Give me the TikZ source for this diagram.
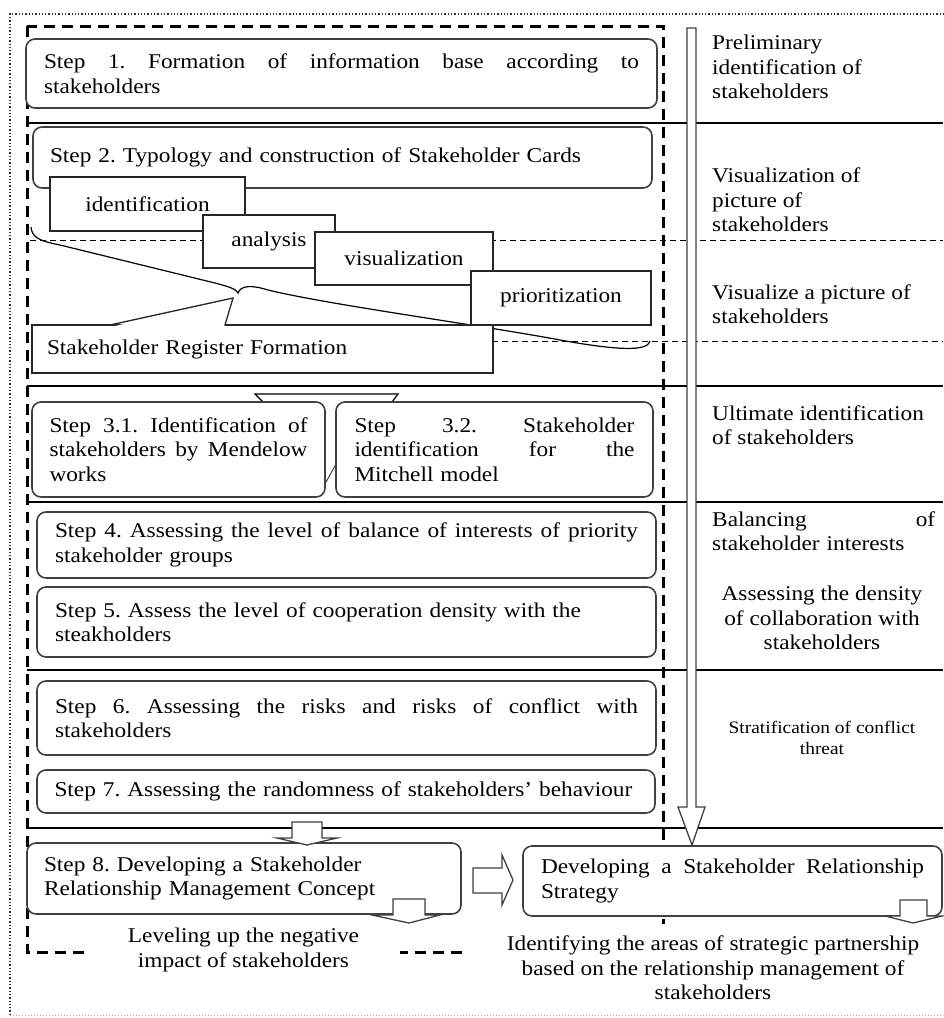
\documentclass[tikz,border=0pt]{standalone}
\usepackage{fontspec}
\setmainfont{Liberation Serif}[FakeStretch=1.11]
\frenchspacing
\usepackage{tikz}
\usetikzlibrary{positioning}
\tikzset{stepbox/.style={draw=black!75, line width=1.6pt, rounded corners=9pt, fill=white, inner sep=0pt, align=left},
  cardbox/.style={draw=black!85, line width=1.3pt, fill=white, inner sep=0pt},
  blockarrow/.style={draw=black!75, line width=1.3pt, fill=white},
  sidetext/.style={anchor=west, align=left, inner sep=0pt},
  rowline/.style={line width=1.4pt},
  frameline/.style={line width=3pt, dash pattern=on 11pt off 7pt}}
\newcommand{\spread}[2]{\leavevmode\hbox to #1{\spaceskip=0.25em plus 1fil\relax #2}}

\begin{document}
\begin{tikzpicture}[x=1pt, y=-1pt, font=\fontsize{21}{24.5}\selectfont]
    \useasboundingbox (0,0) rectangle (943,1018);
    % frames
    \draw[dotted, line width=1.3pt, black!80] (10,1015) -- (10,14) -- (943,14);
    \draw[dotted, line width=1pt, black!30] (10,1015) -- (943,1015);
    \draw[frameline] (27,26) rectangle (663,952);
    \foreach \y in {123,386,502,670,828}
        \draw[rowline] (27,\y) -- (943,\y);
    \draw[line width=1pt, dash pattern=on 6pt off 4pt] (30,240) -- (943,240);
    \draw[line width=1pt, dash pattern=on 6pt off 4pt] (32,341) -- (943,341);
    % brace
    \draw[line width=1.2pt] (31,227) .. controls (32,238) and (40,241) .. (60,245) -- (215,283)
        .. controls (230,287) and (236,289) .. (238,293) .. controls (241,285) and (252,285) .. (268,290)
        .. controls (330,305) and (480,325) .. (560,340) .. controls (615,350) and (648,352) .. (650,341);
    \draw[blockarrow] (687,28) -- (696,28) -- (696,807) -- (705,807) -- (692,845) -- (678,807) -- (687,807) -- cycle;

    \node[stepbox, minimum width=631pt, minimum height=69pt, text width=595pt] (s1) at (341.5,73.5)
        {\spread{595pt}{Step 1. Formation of information base according to}\\stakeholders};
    \node[stepbox, minimum width=619pt, minimum height=61pt, text width=585pt] (s2) at (342.5,157.5)
        {Step 2. Typology and construction of Stakeholder Cards};
    \node[cardbox, minimum width=195pt, minimum height=54pt] (cardid) at (147.5,204) {identification};
    \node[cardbox, minimum width=132pt, minimum height=53pt] (cardan) at (269,241.5) {analysis};
    \node[cardbox, minimum width=178pt, minimum height=53pt] (cardvis) at (404,258.5) {visualization};
    \node[cardbox, minimum width=180pt, minimum height=54pt] (cardpri) at (561,298) {prioritization};
    \node[cardbox, minimum width=461pt, minimum height=48pt, text width=431pt, align=left] (reg) at (262.5,349)
        {Stakeholder Register Formation};
    \fill[white] (111,327) -- (233,298) -- (224,327) -- cycle;
    \draw[line width=1.3pt, black!85] (110,325) -- (233,298) -- (225,325);

    \draw[line width=1.2pt, fill=white] (263,402) -- (255,394) -- (398,394) -- (392,402);
    \node[stepbox, minimum width=293pt, minimum height=95pt, text width=258pt] (s31) at (178.5,449.5)
        {\spread{258pt}{Step 3.1. Identification of}\\\spread{258pt}{stakeholders by Mendelow}\\works};
    \node[stepbox, minimum width=317pt, minimum height=95pt, text width=280pt] (s32) at (494.5,449.5)
        {\spread{280pt}{Step 3.2. Stakeholder}\\\spread{280pt}{identification for the}\\Mitchell model};
    \draw[line width=1pt, black!75] ([yshift=-33pt]s31.east) -- ([yshift=-16pt]s32.west);

    \node[stepbox, minimum width=619pt, minimum height=66pt, text width=583pt] (s4) at (346.5,545)
        {\spread{583pt}{Step 4. Assessing the level of balance of interests of priority}\\stakeholder groups};
    \node[stepbox, minimum width=619pt, minimum height=70pt, text width=583pt] (s5) at (346.5,622)
        {Step 5. Assess the level of cooperation density with the\\steakholders};
    \node[stepbox, minimum width=619pt, minimum height=74pt, text width=583pt] (s6) at (346.5,718)
        {\spread{583pt}{Step 6. Assessing the risks and risks of conflict with}\\stakeholders};
    \node[stepbox, minimum width=618pt, minimum height=43pt, text width=583pt] (s7) at (346,791.5)
        {Step 7. Assessing the randomness of stakeholders' behaviour};

    \node[stepbox, minimum width=434pt, minimum height=71pt, text width=400pt] (s8) at (244,878.5)
        {Step 8. Developing a Stakeholder\\Relationship Management Concept};
    \node[stepbox, minimum width=419pt, minimum height=70pt, text width=383pt] (strat) at (732.5,881)
        {\spread{383pt}{Developing a Stakeholder Relationship}\\Strategy};
    \draw[blockarrow] (292,822) -- (322,822) -- (322,838) -- (337,838) -- (307,845) -- (277,838) -- (292,838) -- cycle;
    \draw[blockarrow] (393,899) -- (425,899) -- (425,915) -- (440,915) -- (409,923) -- (372,915) -- (393,915) -- cycle;
    \draw[blockarrow] (473,868) -- (502,868) -- (502,855) -- (513,880) -- (502,905) -- (502,893) -- (473,893) -- cycle;
    \draw[blockarrow] (900,900) -- (927,900) -- (927,916) -- (942,916) -- (913,923) -- (885,916) -- (900,916) -- cycle;

    \node[fill=white, align=center, minimum width=313pt, inner sep=1pt] (lvl) at (243.5,950)
        {Leveling up the negative\\impact of stakeholders};
    \node[fill=white, align=center, minimum width=490pt, minimum height=88pt, inner sep=0pt] (ident) at (713,968)
        {Identifying the areas of strategic partnership\\based on the relationship management of\\stakeholders};

    % right column
    \node[sidetext] (side1) at (712,67) {Preliminary\\identification of\\stakeholders};
    \node[sidetext] (side2) at (712,200) {Visualization of\\picture of\\stakeholders};
    \node[sidetext] (side3) at (712,304) {Visualize a picture of\\stakeholders};
    \node[sidetext] (side4) at (712,425) {Ultimate identification\\of stakeholders};
    \node[sidetext, text width=223pt] (side5) at (712,531) {\spread{223pt}{Balancing of}\\stakeholder interests};
    \node[align=center, inner sep=0pt] (side6) at (822,618) {Assessing the density\\of collaboration with\\stakeholders};
    \node[align=center, inner sep=0pt, font=\fontsize{17.5}{21}\selectfont] (side7) at (822,738) {Stratification of conflict\\threat};
\end{tikzpicture}
\end{document}
